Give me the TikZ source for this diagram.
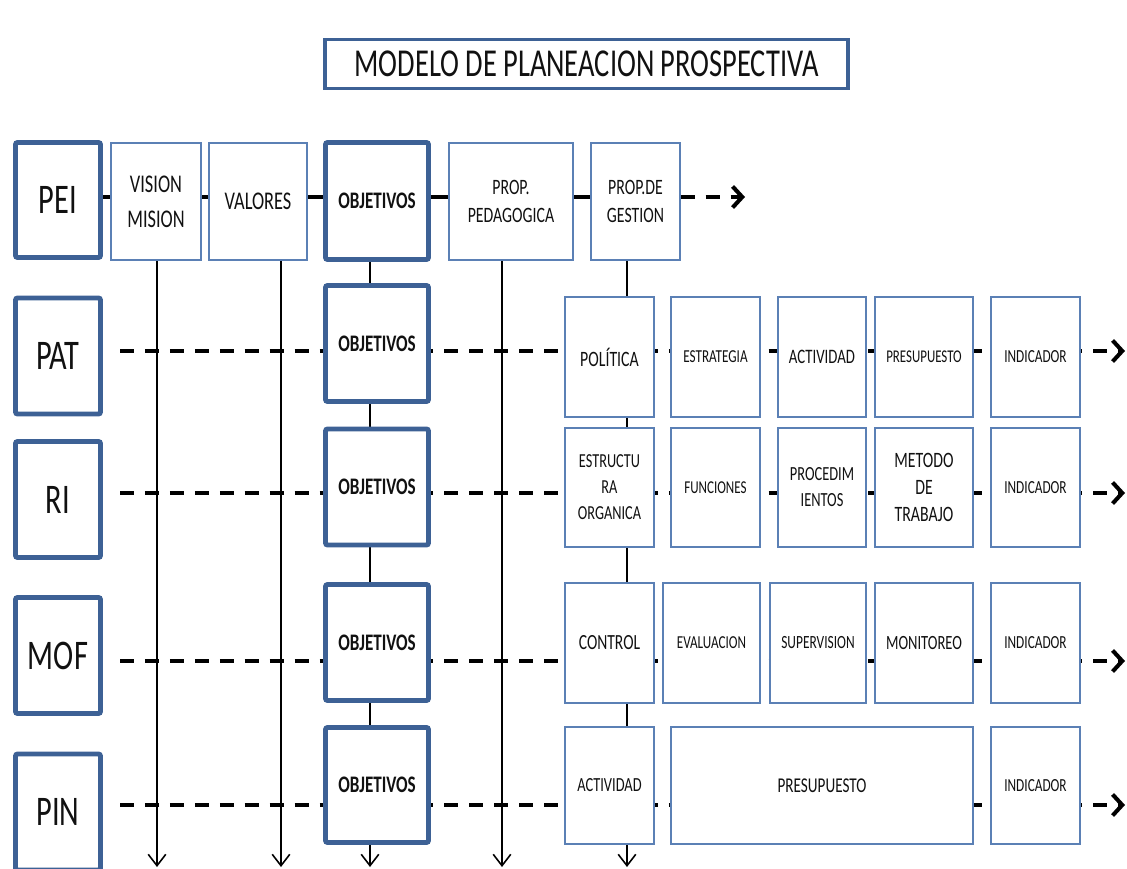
\documentclass[tikz,border=0pt]{standalone}
\usepackage{fontspec}
\setmainfont{Carlito}[FakeStretch=0.72]
\usetikzlibrary{arrows.meta,backgrounds,positioning}
\definecolor{edgeblue}{HTML}{5B80B5}
\definecolor{frameblue}{HTML}{3D6195}
\definecolor{ink}{HTML}{111111}
\tikzset{
  box/.style={draw=edgeblue,line width=0.7pt,fill=white,align=center,inner sep=1pt,text=ink},
  keybox/.style={draw=frameblue,line width=2.8pt,fill=white,rounded corners=1.2pt,align=center,inner sep=1pt,text=ink},
  fs/.style n args={2}{font=\fontsize{#1}{#2}\selectfont},
  lead/.style={keybox,minimum width=1.7cm,minimum height=2.32cm,fs={24}{28}},
  objbox/.style={keybox,minimum width=2.06cm,minimum height=2.32cm,font=\bfseries\fontsize{13.5}{16}\selectfont},
  rowline/.style={line width=2.3pt,dash pattern=on 8pt off 6.2pt,-{Straight Barb[length=5.5pt,width=12pt]}},
  colline/.style={line width=0.9pt,-{Straight Barb[length=6.5pt,width=10pt]}},
}
\begin{document}
\begin{tikzpicture}[x=0.02cm,y=-0.02cm]
  \useasboundingbox (0,0) rectangle (1127,869);

  % Title
  \node[keybox,line width=2.2pt,rounded corners=0pt,minimum width=10.46cm,minimum height=0.98cm,fs={22.5}{26}] (title) at (586.5,64) {MODELO DE PLANEACION PROSPECTIVA};

  % Row PEI
  \node[lead,minimum height=2.3cm] (pei) at (58,200) {PEI};
  \node[box,minimum width=1.8cm,minimum height=2.34cm,fs={14.5}{19.8}] (vision) at (156,201.5) {VISION\\MISION};
  \node[box,minimum width=1.96cm,minimum height=2.34cm,fs={14.5}{19.8}] (valores) at (258,201.5) {VALORES};
  \node[objbox,minimum height=2.34cm] (obj1) at (377,201) {OBJETIVOS};
  \node[box,minimum width=2.48cm,minimum height=2.34cm,fs={12.5}{15.9}] (pedagogica) at (511,201.5) {PROP.\\PEDAGOGICA};
  \node[box,minimum width=1.78cm,minimum height=2.34cm,fs={12.5}{15.9}] (gestion) at (635.5,201.5) {PROP.DE\\GESTION};

  % Row PAT
  \node[lead] (pat) at (58,356) {PAT};
  \node[objbox] (obj2) at (377,343.5) {OBJETIVOS};
  \node[box,minimum width=1.78cm,minimum height=2.4cm,fs={12.5}{15}] (politica) at (609.5,357) {POLÍTICA};
  \node[box,minimum width=1.78cm,minimum height=2.4cm,fs={10.4}{13}] (estrategia) at (715.5,357) {ESTRATEGIA};
  \node[box,minimum width=1.76cm,minimum height=2.4cm,fs={11.7}{14}] (actividadA) at (822,357) {ACTIVIDAD};
  \node[box,minimum width=1.96cm,minimum height=2.4cm,fs={10.2}{13}] (presupuestoA) at (924,357) {PRESUPUESTO};
  \node[box,minimum width=1.78cm,minimum height=2.4cm,fs={10.5}{13}] (indicadorA) at (1035.5,357) {INDICADOR};

  % Row RI
  \node[lead] (ri) at (58,499.5) {RI};
  \node[objbox] (obj3) at (377,487) {OBJETIVOS};
  \node[box,minimum width=1.78cm,minimum height=2.38cm,fs={11.3}{14.8}] (estructura) at (609.5,487.5) {ESTRUCTU\\RA\\ORGANICA};
  \node[box,minimum width=1.78cm,minimum height=2.38cm,fs={10.3}{13}] (funciones) at (715.5,487.5) {FUNCIONES};
  \node[box,minimum width=1.76cm,minimum height=2.38cm,fs={11.4}{14.8}] (procedim) at (822,487.5) {PROCEDIM\\IENTOS};
  \node[box,minimum width=1.96cm,minimum height=2.38cm,fs={12.5}{15.3}] (metodo) at (924,487.5) {METODO\\DE\\TRABAJO};
  \node[box,minimum width=1.78cm,minimum height=2.38cm,fs={10.5}{13}] (indicadorB) at (1035.5,487.5) {INDICADOR};

  % Row MOF
  \node[lead] (mof) at (58,655.5) {MOF};
  \node[objbox] (obj4) at (377,642.5) {OBJETIVOS};
  \node[box,minimum width=1.78cm,minimum height=2.4cm,fs={12.3}{15}] (control) at (609.5,643) {CONTROL};
  \node[box,minimum width=1.94cm,minimum height=2.4cm,fs={10.4}{13}] (evaluacion) at (711.5,643) {EVALUACION};
  \node[box,minimum width=1.92cm,minimum height=2.4cm,fs={10.6}{13}] (supervision) at (818,643) {SUPERVISION};
  \node[box,minimum width=1.96cm,minimum height=2.4cm,fs={11.5}{14}] (monitoreo) at (924,643) {MONITOREO};
  \node[box,minimum width=1.78cm,minimum height=2.4cm,fs={10.5}{13}] (indicadorC) at (1035.5,643) {INDICADOR};

  % Row PIN
  \node[lead] (pin) at (58,812) {PIN};
  \node[objbox,minimum height=2.3cm] (obj5) at (377,785) {OBJETIVOS};
  \node[box,minimum width=1.78cm,minimum height=2.34cm,fs={11.4}{14}] (actividadB) at (609.5,785.5) {ACTIVIDAD};
  \node[box,minimum width=6.04cm,minimum height=2.34cm,fs={12}{15}] (presupuestoB) at (822,785.5) {PRESUPUESTO};
  \node[box,minimum width=1.78cm,minimum height=2.34cm,fs={10.5}{13}] (indicadorD) at (1035.5,785.5) {INDICADOR};

  % Ends of the row lines and of the columns
  \coordinate (r1) at (0,197);
  \coordinate (e1) at (745,197);
  \coordinate (s2) at (120,351); \coordinate (e2) at (1125,351);
  \coordinate (s3) at (120,493); \coordinate (e3) at (1125,493);
  \coordinate (s4) at (120,661); \coordinate (e4) at (1125,661);
  \coordinate (s5) at (120,805); \coordinate (e5) at (1125,805);
  \coordinate (b1) at (157,867);
  \coordinate (b2) at (281,867);
  \coordinate (b3) at (370,867);
  \coordinate (b4) at (502,867);
  \coordinate (b5) at (627,867);

  \begin{scope}[on background layer]
    % Row lines
    \draw[line width=2.3pt] (pei.east |- r1) -- (gestion.west |- r1);
    \draw[rowline] (gestion.east |- r1) -- (e1);
    \foreach \r in {2,...,5}
      \draw[rowline] (s\r) -- (e\r);
    % Columns
    \draw[colline] (vision.south -| b1) -- (b1);
    \draw[colline] (valores.south -| b2) -- (b2);
    \draw[colline] (obj1.south -| b3) -- (b3);
    \draw[colline] (pedagogica.south -| b4) -- (b4);
    \draw[colline] (gestion.south -| b5) -- (b5);
  \end{scope}
\end{tikzpicture}
\end{document}
